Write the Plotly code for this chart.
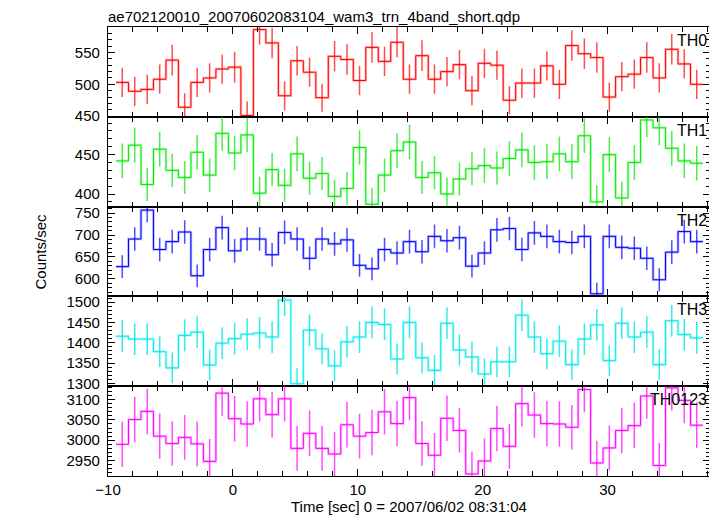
import plotly.graph_objects as go
from plotly.subplots import make_subplots

# ---- data ----
time_centers = [-8.86, -7.86, -6.86, -5.86, -4.86, -3.86, -2.86, -1.86, -0.86, 0.14,
                1.14, 2.14, 3.14, 4.14, 5.14, 6.14, 7.14, 8.14, 9.14, 10.14,
                11.14, 12.14, 13.14, 14.14, 15.14, 16.14, 17.14, 18.14, 19.14, 20.14,
                21.14, 22.14, 23.14, 24.14, 25.14, 26.14, 27.14, 28.14, 29.14, 30.14,
                31.14, 32.14, 33.14, 34.14, 35.14, 36.14, 37.14]
bin_half_width = 0.5

th0 = [503, 489, 492, 508, 538, 464, 503, 510, 524, 527, 451, 586, 565, 482, 537, 519,
       479, 544, 539, 506, 558, 536, 566, 508, 545, 508, 520, 531, 490, 533, 530, 475,
       502, 502, 529, 500, 561, 548, 542, 480, 512, 516, 542, 510, 555, 532, 500]
th0_err = [23, 23, 23, 23, 24, 22, 23, 23, 23, 24, 22, 24, 24, 23, 23, 23,
           22, 24, 24, 23, 24, 23, 24, 23, 24, 23, 23, 23, 23, 23, 23, 22,
           23, 23, 23, 23, 24, 24, 24, 23, 23, 23, 24, 23, 24, 23, 23]

th1 = [442, 462, 412, 457, 430, 421, 453, 424, 477, 452, 475, 401, 431, 411, 451, 420,
       426, 397, 407, 459, 387, 424, 455, 466, 421, 427, 400, 419, 432, 436, 433, 445,
       456, 440, 441, 451, 441, 474, 390, 450, 395, 440, 494, 484, 458, 442, 439]
th1_err = [22, 22, 21, 22, 21, 21, 22, 21, 22, 22, 22, 21, 21, 21, 22, 21,
           21, 21, 21, 22, 21, 21, 22, 22, 21, 21, 21, 21, 21, 22, 21, 22,
           22, 22, 22, 22, 22, 22, 21, 22, 21, 22, 22, 22, 22, 22, 22]

th2 = [628, 691, 757, 667, 685, 707, 607, 667, 717, 664, 691, 691, 655, 706, 691, 647,
       691, 680, 689, 631, 623, 667, 659, 685, 662, 697, 687, 694, 629, 659, 712, 715,
       667, 705, 697, 685, 683, 697, 566, 697, 672, 670, 647, 598, 661, 708, 685]
th2_err = [26, 27, 28, 27, 27, 27, 26, 27, 27, 27, 27, 27, 27, 27, 27, 27,
           27, 27, 27, 26, 26, 27, 27, 27, 27, 27, 27, 27, 26, 27, 27, 27,
           27, 27, 27, 27, 27, 27, 25, 27, 27, 27, 27, 26, 27, 27, 27]

th3 = [1416, 1409, 1409, 1378, 1338, 1418, 1426, 1345, 1399, 1410, 1421, 1424, 1414, 1505,
       1299, 1431, 1385, 1343, 1402, 1414, 1450, 1445, 1360, 1450, 1363, 1332, 1448, 1382,
       1365, 1323, 1353, 1353, 1468, 1414, 1373, 1404, 1346, 1409, 1444, 1356, 1448, 1414,
       1426, 1346, 1454, 1420, 1412]
th3_err = [39, 39, 39, 38, 38, 39, 39, 38, 39, 39, 39, 39, 39, 40, 38, 39,
           38, 38, 39, 39, 39, 39, 38, 39, 38, 38, 39, 38, 38, 38, 38, 38,
           39, 39, 38, 39, 38, 39, 39, 38, 39, 39, 39, 38, 39, 39, 39]

th0123 = [2990, 3051, 3071, 3010, 2992, 3007, 2991, 2948, 3116, 3053, 3040, 3102, 3063, 3102,
          2980, 3017, 2980, 2966, 3038, 3010, 3019, 3070, 3041, 3105, 2992, 2963, 3054, 3024,
          2917, 2949, 3029, 2985, 3090, 3062, 3041, 3040, 3032, 3125, 2944, 2981, 3024, 3036,
          3109, 2938, 3129, 3098, 3037]
th0123_err = [56, 56, 56, 56, 55, 55, 55, 55, 56, 56, 56, 56, 56, 56, 55, 56,
              55, 55, 56, 55, 56, 56, 56, 56, 55, 55, 56, 55, 55, 55, 56, 55,
              56, 56, 56, 56, 55, 56, 55, 55, 56, 56, 56, 55, 56, 56, 56]

series_names = ["TH0", "TH1", "TH2", "TH3", "TH0123"]
series_values = [th0, th1, th2, th3, th0123]
series_errors = [th0_err, th1_err, th2_err, th3_err, th0123_err]
series_colors = ["#ff0000", "#00ee00", "#0000ff", "#00eeee", "#ff00ff"]
series_fade = ["rgba(255,0,0,0.28)", "rgba(0,230,0,0.28)", "rgba(0,0,255,0.28)",
               "rgba(0,230,230,0.3)", "rgba(255,0,255,0.28)"]
series_errcol = ["rgba(255,0,0,0.7)", "rgba(0,230,0,0.7)", "rgba(0,0,255,0.7)",
                 "rgba(0,230,230,0.8)", "rgba(255,0,255,0.7)"]
y_ranges = [[449, 590], [384, 498], [560, 765], [1293, 1514], [2912, 3133]]

title_text = "ae702120010_20070602083104_wam3_trn_4band_short.qdp"
x_title = "Time [sec] 0 = 2007/06/02 08:31:04"
y_title = "Counts/sec"

FONT = "Liberation Sans, Arial, Helvetica, sans-serif"

fig = make_subplots(rows=5, cols=1, shared_xaxes=True, vertical_spacing=0)

edges = [c - bin_half_width for c in time_centers] + [time_centers[-1] + bin_half_width]

for i, (name, vals, errs) in enumerate(zip(series_names, series_values, series_errors)):
    row = i + 1
    step_y = vals + [vals[-1]]
    fig.add_trace(go.Scatter(x=edges, y=step_y, mode="lines",
                             line=dict(shape="hv", color=series_fade[i], width=2.6),
                             hoverinfo="skip", showlegend=False), row=row, col=1)
    fig.add_trace(go.Scatter(x=edges, y=step_y, mode="lines",
                             line=dict(shape="hv", color=series_colors[i], width=1.0),
                             showlegend=False, name=name), row=row, col=1)
    fig.add_trace(go.Scatter(x=time_centers, y=vals, mode="markers",
                             marker=dict(size=0.1, color=series_colors[i], opacity=0),
                             error_y=dict(type="data", array=errs, visible=True,
                                          color=series_errcol[i], thickness=1.5, width=0),
                             showlegend=False, name=name), row=row, col=1)
    fig.add_annotation(text=name, xref=f"x{'' if row == 1 else row} domain",
                       yref=f"y{'' if row == 1 else row} domain",
                       x=1, y=1, xanchor="right", yanchor="top", xshift=-1, yshift=-3,
                       showarrow=False, font=dict(family=FONT, size=16, color="black"))
    fig.update_yaxes(range=y_ranges[i], row=row, col=1)

axis_common = dict(showline=True, linecolor="black", linewidth=1.2, mirror="ticks",
                   ticks="inside", tickcolor="black", tickwidth=1, showgrid=False,
                   zeroline=False, tickfont=dict(family=FONT, size=15, color="black"))

fig.update_xaxes(range=[-10, 38.2], tick0=0, dtick=10, ticklen=7,
                 minor=dict(dtick=2, ticks="inside", ticklen=5, tickcolor="black", showgrid=False),
                 **axis_common)
fig.update_yaxes(tick0=0, dtick=50, ticklen=7, ticklabelstandoff=4,
                 minor=dict(dtick=10, ticks="inside", ticklen=4, tickcolor="black", showgrid=False),
                 **axis_common)

fig.add_annotation(text=title_text, xref="paper", yref="paper", x=0, y=1,
                   xanchor="left", yanchor="bottom", xshift=-2, yshift=0, showarrow=False,
                   font=dict(family=FONT, size=15, color="black"))
fig.add_annotation(text=x_title, xref="paper", yref="paper", x=0.5, y=0,
                   xanchor="center", yanchor="top", yshift=-20, showarrow=False,
                   font=dict(family=FONT, size=15, color="black"))
fig.add_annotation(text=y_title, xref="paper", yref="paper", x=0, y=0.5,
                   xanchor="center", yanchor="middle", xshift=-68, textangle=-90,
                   showarrow=False, font=dict(family=FONT, size=15, color="black"))

# The page body adds an 8px offset, so the figure box is shifted to compensate.
fig.update_layout(width=709, height=508, margin=dict(l=100, r=7, t=19, b=40),
                  paper_bgcolor="white", plot_bgcolor="white",
                  font=dict(family=FONT, size=15, color="black"))

fig.write_html("out.html")
